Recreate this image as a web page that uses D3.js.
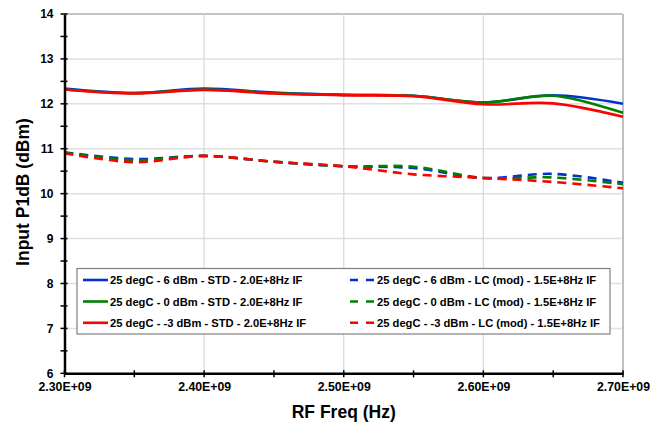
<!DOCTYPE html>
<html><head><meta charset="utf-8">
<script src="https://cdn.jsdelivr.net/npm/d3@7"></script>
<style>body{margin:0;background:#fff}svg{display:block}text{font-family:Arial,"Liberation Sans",sans-serif;font-weight:bold}</style>
</head><body><svg id="c" width="665" height="428"></svg>
<script>
const freqs = [2.30e9, 2.35e9, 2.40e9, 2.45e9, 2.50e9, 2.55e9, 2.60e9, 2.65e9, 2.70e9];
const std6  = [12.34, 12.24, 12.34, 12.25, 12.20, 12.18, 12.03, 12.19, 12.00];
const std0  = [12.32, 12.24, 12.32, 12.24, 12.20, 12.18, 12.03, 12.18, 11.80];
const stdm3 = [12.32, 12.23, 12.31, 12.23, 12.19, 12.17, 11.99, 12.01, 11.71];
const lc6   = [10.92, 10.77, 10.84, 10.71, 10.61, 10.57, 10.35, 10.44, 10.24];
const lc0   = [10.91, 10.74, 10.84, 10.71, 10.61, 10.60, 10.35, 10.36, 10.21];
const lcm3  = [10.90, 10.70, 10.84, 10.71, 10.61, 10.43, 10.35, 10.26, 10.12];
const legendLabels = [
  "25 degC - 6 dBm - STD - 2.0E+8Hz IF",
  "25 degC - 0 dBm - STD - 2.0E+8Hz IF",
  "25 degC - -3 dBm - STD - 2.0E+8Hz IF",
  "25 degC - 6 dBm - LC (mod) - 1.5E+8Hz IF",
  "25 degC - 0 dBm - LC (mod) - 1.5E+8Hz IF",
  "25 degC - -3 dBm - LC (mod) - 1.5E+8Hz IF"
];
const xTicks = [2.30e9, 2.40e9, 2.50e9, 2.60e9, 2.70e9];
const xTickLabels = ["2.30E+09", "2.40E+09", "2.50E+09", "2.60E+09", "2.70E+09"];
const yTicks = [6, 7, 8, 9, 10, 11, 12, 13, 14];
const xMinor = [2.35e9, 2.45e9, 2.55e9, 2.65e9];
const yMinor = [6.5, 7.5, 8.5, 9.5, 10.5, 11.5, 12.5, 13.5];
const xTitle = "RF Freq (Hz)";
const yTitle = "Input P1dB (dBm)";

const colors = ["#0033cc", "#008000", "#ff0000"];
const series = [
  {vals: std6, c: colors[0], dash: null},
  {vals: std0, c: colors[1], dash: null},
  {vals: stdm3, c: colors[2], dash: null},
  {vals: lc6, c: colors[0], dash: "9,6"},
  {vals: lc0, c: colors[1], dash: "9,6"},
  {vals: lcm3, c: colors[2], dash: "9,6"}
];

const svg = d3.select("#c");
const L = 64.5, R = 623, T = 14, B = 373.3;
const x = d3.scaleLinear().domain([2.30e9, 2.70e9]).range([L, R]);
const y = d3.scaleLinear().domain([6, 14]).range([B, T]);

// gridlines
svg.append("g").selectAll("line").data(yTicks.filter(v => v > 6)).join("line")
  .attr("x1", L).attr("x2", R).attr("y1", d => y(d)).attr("y2", d => y(d))
  .attr("stroke", d => d === 14 ? "#b0b0b0" : "#e0e0e0").attr("stroke-width", 1.5);
svg.append("g").selectAll("line").data(xTicks.filter(v => v > 2.30e9)).join("line")
  .attr("x1", d => x(d)).attr("x2", d => x(d)).attr("y1", T).attr("y2", B)
  .attr("stroke", d => d === 2.70e9 ? "#c0c0c0" : "#d8d8d8").attr("stroke-width", d => d === 2.70e9 ? 2 : 1.2);

// lines
const line = d3.line().x((d, i) => x(freqs[i])).y(d => y(d)).curve(d3.curveCatmullRom.alpha(0.5));
svg.append("g").selectAll("path").data(series).join("path")
  .attr("d", d => line(d.vals)).attr("fill", "none")
  .attr("stroke", d => d.c).attr("stroke-width", 2.6)
  .attr("stroke-dasharray", d => d.dash);

// axes
const gy = svg.append("g").attr("transform", `translate(${L},0)`)
  .call(d3.axisLeft(y).tickValues(yTicks).tickSize(0).tickPadding(11).tickFormat(d3.format("d")));
gy.select(".domain").attr("stroke", "#000").attr("stroke-width", 2.5);
gy.selectAll("text").attr("font-size", 12).attr("fill", "#000");
const gx = svg.append("g").attr("transform", `translate(0,${B})`)
  .call(d3.axisBottom(x).tickValues(xTicks).tickSize(0).tickPadding(8.5).tickFormat((d, i) => xTickLabels[i]));
gx.select(".domain").attr("stroke", "#000").attr("stroke-width", 2.5);
gx.selectAll("text").attr("font-size", 12.3).attr("fill", "#000");

// crossing tick marks
svg.append("g").selectAll("line").data(yTicks.concat(yMinor)).join("line")
  .attr("x1", L - 4).attr("x2", L + 3).attr("y1", d => y(d)).attr("y2", d => y(d))
  .attr("stroke", "#000").attr("stroke-width", 1.5);
svg.append("g").selectAll("line").data(xTicks.concat(xMinor)).join("line")
  .attr("x1", d => x(d)).attr("x2", d => x(d)).attr("y1", B - 3).attr("y2", B + 4)
  .attr("stroke", "#000").attr("stroke-width", 1.5);

// titles
svg.append("text").attr("x", (L + R) / 2).attr("y", 418).attr("text-anchor", "middle")
  .attr("font-size", 17.5).text(xTitle);
svg.append("text").attr("transform", `translate(29,192) rotate(-90)`).attr("text-anchor", "middle")
  .attr("font-size", 17.5).text(yTitle);

// legend
const lg = svg.append("g");
lg.append("rect").attr("x", 77).attr("y", 268.5).attr("width", 533).attr("height", 65.5)
  .attr("fill", "#fff").attr("stroke", "#808080").attr("stroke-width", 1.2);
const rows = [280, 301.5, 322.8];
series.forEach((s, i) => {
  const col = i < 3 ? 0 : 1, r = i % 3;
  const lx = col === 0 ? 83 : 350, tx = col === 0 ? 110 : 377;
  lg.append("line").attr("x1", lx).attr("x2", lx + 25).attr("y1", rows[r]).attr("y2", rows[r])
    .attr("stroke", s.c).attr("stroke-width", 2.6).attr("stroke-dasharray", s.dash ? "8,8" : null);
  lg.append("text").attr("x", tx).attr("y", rows[r] + 4).attr("font-size", 11.2).text(legendLabels[i]);
});
</script></body></html>
